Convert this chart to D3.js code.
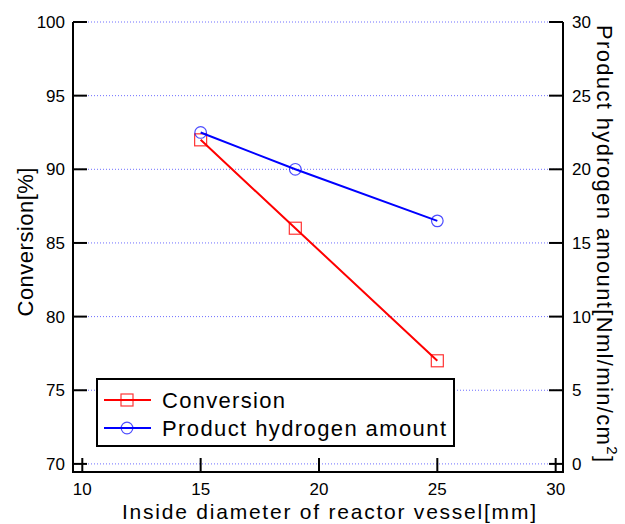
<!DOCTYPE html>
<html>
<head>
<meta charset="utf-8">
<script src="https://cdn.jsdelivr.net/npm/d3@7"></script>
<style>
  body { margin: 0; background: #fff; }
  svg { display: block; font-family: "Liberation Sans", Arial, sans-serif; }
</style>
</head>
<body>
<div id="chart"></div>
<script>
// data
const diameters = [15, 19, 25];
const conversion = [92, 86, 77];
const hydrogen = [22.5, 20, 16.5];

const xTicks = [10, 15, 20, 25, 30];
const leftTicks = [70, 75, 80, 85, 90, 95, 100];
const rightTicks = [0, 5, 10, 15, 20, 25, 30];

const width = 625, height = 524;
const frame = { left: 73, right: 563, top: 22, bottom: 472 };

const svg = d3.select("#chart").append("svg")
    .attr("width", width)
    .attr("height", height);

const x = d3.scaleLinear().domain([9.607, 30.31]).range([frame.left, frame.right]);
const yL = d3.scaleLinear().domain([69.45, 100]).range([frame.bottom, frame.top]);
const yR = d3.scaleLinear().domain([-0.55, 30]).range([frame.bottom, frame.top]);

// dotted grid
svg.append("g")
    .selectAll("line")
    .data(leftTicks)
    .join("line")
    .attr("x1", frame.left).attr("x2", frame.right)
    .attr("y1", d => yL(d)).attr("y2", d => yL(d))
    .attr("stroke", "#6e6eff")
    .attr("stroke-width", 1)
    .attr("stroke-dasharray", "1,2");

// frame: left, bottom, right (top is just the grid line)
svg.append("path")
    .attr("d", `M${frame.left},${frame.top}V${frame.bottom}H${frame.right}V${frame.top}`)
    .attr("fill", "none")
    .attr("stroke", "#000")
    .attr("stroke-width", 2);

const tickLen = 14;
const tickFont = 17;

// left axis, inward ticks
const left = svg.append("g");
left.selectAll("line")
    .data(leftTicks)
    .join("line")
    .attr("x1", frame.left).attr("x2", frame.left + tickLen)
    .attr("y1", d => yL(d)).attr("y2", d => yL(d))
    .attr("stroke", "#000").attr("stroke-width", 2);
left.selectAll("text")
    .data(leftTicks)
    .join("text")
    .attr("x", 65)
    .attr("y", d => yL(d))
    .attr("dy", "0.36em")
    .attr("text-anchor", "end")
    .attr("font-size", tickFont)
    .text(d => d);

// right axis
const right = svg.append("g");
right.selectAll("line")
    .data(rightTicks)
    .join("line")
    .attr("x1", frame.right - tickLen).attr("x2", frame.right)
    .attr("y1", d => yR(d)).attr("y2", d => yR(d))
    .attr("stroke", "#000").attr("stroke-width", 2);
right.selectAll("text")
    .data(rightTicks)
    .join("text")
    .attr("x", 572)
    .attr("y", d => yR(d))
    .attr("dy", "0.36em")
    .attr("font-size", tickFont)
    .text(d => d);

// bottom axis
const bottom = svg.append("g");
bottom.selectAll("line")
    .data(xTicks)
    .join("line")
    .attr("x1", d => x(d)).attr("x2", d => x(d))
    .attr("y1", frame.bottom).attr("y2", frame.bottom - tickLen)
    .attr("stroke", "#000").attr("stroke-width", 2);
bottom.selectAll("text")
    .data(xTicks)
    .join("text")
    .attr("x", d => x(d))
    .attr("y", 495)
    .attr("text-anchor", "middle")
    .attr("font-size", tickFont)
    .text(d => d);

// axis titles
svg.append("text")
    .attr("x", 329).attr("y", 519)
    .attr("text-anchor", "middle")
    .attr("font-size", 21)
    .attr("textLength", 414)
    .text("Inside diameter of reactor vessel[mm]");

svg.append("text")
    .attr("transform", "translate(33,242) rotate(-90)")
    .attr("text-anchor", "middle")
    .attr("font-size", 22)
    .attr("textLength", 149)
    .text("Conversion[%]");

const rTitle = svg.append("text")
    .attr("transform", "translate(597,25) rotate(90)")
    .attr("font-size", 22)
    .attr("textLength", 437);
rTitle.append("tspan").text("Product hydrogen amount[Nml/min/cm");
rTitle.append("tspan").attr("dy", -10).attr("font-size", 15).text("2");
rTitle.append("tspan").attr("dy", 10).text("]");

// series
const series = [
    { name: "Conversion", color: "#ff0000", y: yL, values: conversion, marker: "square" },
    { name: "Product hydrogen amount", color: "#0000ff", y: yR, values: hydrogen, marker: "circle" }
];

function drawMarker(g, type, color) {
    if (type === "square") {
        g.append("rect")
            .attr("x", -6).attr("y", -6)
            .attr("width", 12).attr("height", 12)
            .attr("fill", "none").attr("stroke", color)
            .attr("stroke-opacity", 0.8).attr("stroke-width", 1.2);
    } else {
        g.append("circle")
            .attr("r", 5.8)
            .attr("fill", "none").attr("stroke", color)
            .attr("stroke-opacity", 0.7).attr("stroke-width", 1.2);
    }
}

series.forEach(s => {
    const pts = diameters.map((d, i) => [x(d), s.y(s.values[i])]);
    svg.append("path")
        .attr("d", d3.line()(pts))
        .attr("fill", "none")
        .attr("stroke", s.color)
        .attr("stroke-width", 2);
    pts.forEach(p => {
        const g = svg.append("g").attr("transform", `translate(${p[0]},${p[1]})`);
        drawMarker(g, s.marker, s.color);
    });
});

// legend
const legend = svg.append("g");
legend.append("rect")
    .attr("x", 97).attr("y", 379)
    .attr("width", 357).attr("height", 67)
    .attr("fill", "#fff")
    .attr("stroke", "#000")
    .attr("stroke-width", 2);

const rowY = [400, 428];
const rowLen = [123, 284];
series.forEach((s, i) => {
    const row = legend.append("g").attr("transform", `translate(0,${rowY[i]})`);
    row.append("line")
        .attr("x1", 104).attr("x2", 151)
        .attr("stroke", s.color).attr("stroke-width", 2);
    const g = row.append("g").attr("transform", "translate(127,0)");
    drawMarker(g, s.marker, s.color);
    row.append("text")
        .attr("x", 162)
        .attr("dy", "0.36em")
        .attr("font-size", 22)
        .attr("textLength", rowLen[i])
        .text(s.name);
});
</script>
</body>
</html>
